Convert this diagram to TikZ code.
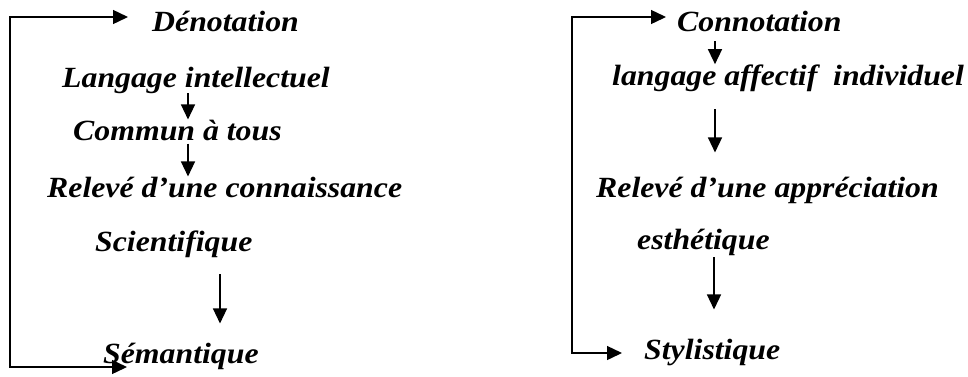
\documentclass[tikz,border=0pt]{standalone}
\usepackage{fontspec}
\setmainfont{Liberation Serif}[FakeStretch=1.085]
\usetikzlibrary{arrows.meta}

\tikzset{
  lbl/.style={anchor=base west, inner sep=0pt, font=\fontsize{29.3}{32}\selectfont\bfseries\itshape},
  arr/.style={line width=1.4pt, -{Triangle[length=15pt,width=14pt]}},
  bracket/.style={line width=1.4pt, {Triangle[length=15pt,width=14pt]}-{Triangle[length=15pt,width=14pt]}}
}

\begin{document}
\begin{tikzpicture}[x=1pt,y=-1pt]
\useasboundingbox (0,0) rectangle (968,376);

% left column: denotation
\node[lbl] (den)  at (152,31.5) {Dénotation};
\node[lbl] (lang) at (62,87)    {Langage intellectuel};
\node[lbl] (comm) at (73,140)   {Commun à tous};
\node[lbl] (relc) at (47,197)   {Relevé d’une connaissance};
\node[lbl] (sci)  at (95,251)   {Scientifique};
\node[lbl] (sem)  at (103,363)  {Sémantique};

% right column: connotation
\node[lbl] (con)  at (677,31.5) {Connotation};
\node[lbl] (aff)  at (612,85)   {langage affectif~ individuel};
\node[lbl] (rela) at (596,197)  {Relevé d’une appréciation};
\node[lbl] (est)  at (637,249)  {esthétique};
\node[lbl] (sty)  at (644,359)  {Stylistique};

% x positions of the vertical arrows
\coordinate (xa) at (188,0);
\coordinate (xb) at (220,0);
\coordinate (xc) at (715,0);
\coordinate (xd) at (714,0);

\draw[arr] (lang.south -| xa) -- (comm.north -| xa);
\draw[arr, shorten <=3pt] (comm.south -| xa) -- (relc.north -| xa);
\draw[arr, shorten <=17pt, shorten >=19pt] (sci.south -| xb) -- (sem.north -| xb);

\draw[arr, shorten <=9pt] (con.south -| xc) -- (aff.north -| xc);
\draw[arr, shorten <=18pt, shorten >=24pt] (aff.south -| xc) -- (rela.north -| xc);
\draw[arr, shorten <=2pt, shorten >=29pt] (est.south -| xd) -- (sty.north -| xd);

% side brackets
\coordinate (lt) at (128,17);
\coordinate (lb) at (127,367);
\coordinate (lx) at (10,0);
\draw[bracket] (lt) -- (lt -| lx) -- (lb -| lx) -- (lb);

\coordinate (rt) at (666,17);
\coordinate (rb) at (622,353);
\coordinate (rx) at (572,0);
\draw[bracket] (rt) -- (rt -| rx) -- (rb -| rx) -- (rb);
\end{tikzpicture}
\end{document}
